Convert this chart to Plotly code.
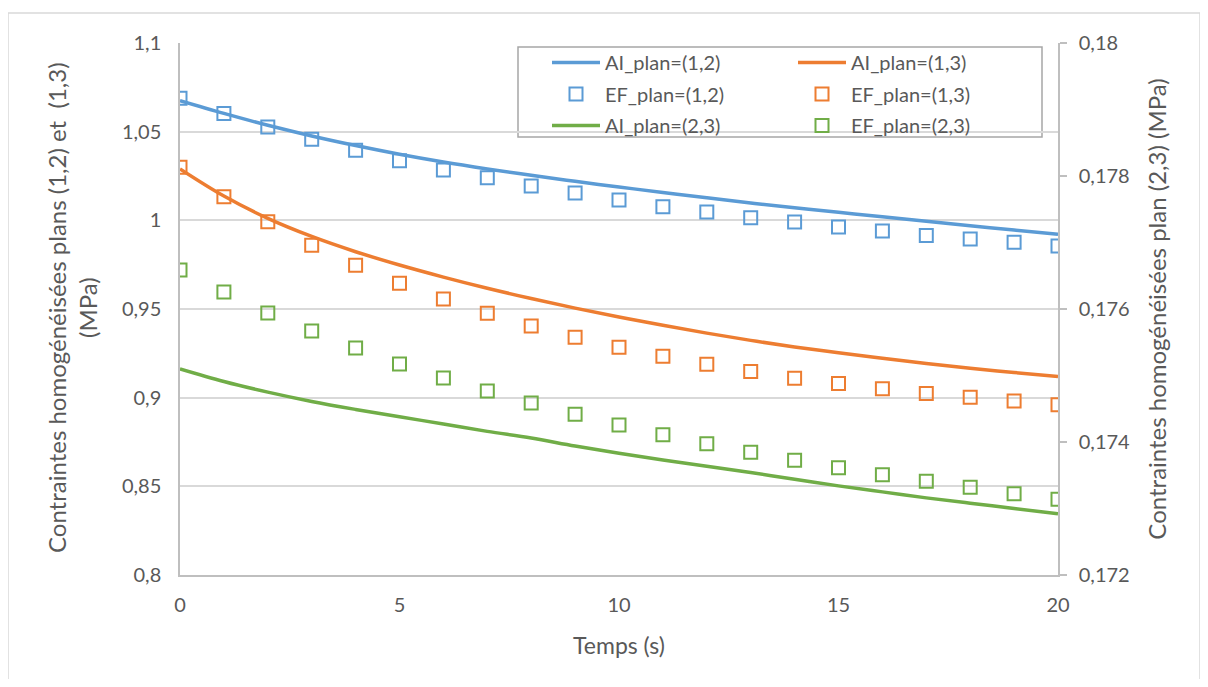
import plotly.graph_objects as go

# ---- data ----
t_ef = list(range(0, 21))
t_ai = list(range(0, 21))

ai_12 = [1.0675, 1.0603, 1.0536, 1.0476, 1.0422, 1.0373, 1.0329, 1.0290, 1.0254, 1.0220,
         1.0188, 1.0157, 1.0127, 1.0098, 1.0071, 1.0045, 1.0020, 0.9995, 0.9970, 0.9945, 0.9921]
ef_12 = [1.0688, 1.0603, 1.0526, 1.0457, 1.0395, 1.0336, 1.0284, 1.0240, 1.0194, 1.0154,
         1.0115, 1.0077, 1.0047, 1.0015, 0.9990, 0.9962, 0.9940, 0.9915, 0.9895, 0.9876, 0.9855]
ai_13 = [1.0290, 1.0137, 1.0011, 0.9909, 0.9823, 0.9748, 0.9680, 0.9617, 0.9559, 0.9505,
         0.9455, 0.9408, 0.9364, 0.9323, 0.9286, 0.9253, 0.9222, 0.9193, 0.9166, 0.9142, 0.9120]
ef_13 = [1.0300, 1.0133, 0.9992, 0.9860, 0.9747, 0.9645, 0.9556, 0.9476, 0.9404, 0.9340,
         0.9284, 0.9233, 0.9188, 0.9148, 0.9110, 0.9080, 0.9050, 0.9024, 0.9002, 0.8981, 0.8960]
ai_23 = [0.17510, 0.17491, 0.17475, 0.17461, 0.17449, 0.17438, 0.17427, 0.17416, 0.17406, 0.17394,
         0.17383, 0.17373, 0.173635, 0.17354, 0.17344, 0.17334, 0.17325, 0.17316, 0.17308, 0.17300, 0.17292]
ef_23 = [0.176586, 0.176256, 0.175940, 0.175670, 0.175414, 0.175173, 0.174962, 0.174767, 0.174586, 0.174416,
         0.174256, 0.174110, 0.173974, 0.173845, 0.173725, 0.173614, 0.173508, 0.173409, 0.173318, 0.173222, 0.173138]

names = ["AI_plan=(1,2)", "EF_plan=(1,2)", "AI_plan=(1,3)", "EF_plan=(1,3)", "AI_plan=(2,3)", "EF_plan=(2,3)"]
y_left_title = "Contraintes homogénéisées plans (1,2) et  (1,3)<br>(MPa)"
y_right_title = "Contraintes homogénéisées plan (2,3) (MPa)"
x_title = "Temps (s)"

BLUE = "#5b9bd5"
ORANGE = "#ed7d31"
GREEN = "#70ad47"
TXT = "#595959"
FONT = "Lato"

fig = go.Figure()

def line(x, y, name, color, yaxis, legend):
    fig.add_trace(go.Scatter(x=x, y=y, name=name, mode="lines", yaxis=yaxis,
                             line=dict(color=color, width=3.5, shape="spline"),
                             legend=legend, legendgroup=name))

def marks(x, y, name, color, yaxis, legend):
    fig.add_trace(go.Scatter(x=x, y=y, name=name, mode="markers", yaxis=yaxis,
                             marker=dict(symbol="square-open", size=13, color=color,
                                         line=dict(color=color, width=2)),
                             legend=legend, legendgroup=name))

line(t_ai, ai_12, names[0], BLUE, "y", "legend")
marks(t_ef, ef_12, names[1], BLUE, "y", "legend")
line(t_ai, ai_23, names[4], GREEN, "y2", "legend")
line(t_ai, ai_13, names[2], ORANGE, "y", "legend2")
marks(t_ef, ef_13, names[3], ORANGE, "y", "legend2")
marks(t_ef, ef_23, names[5], GREEN, "y2", "legend2")

# page body has an 8px margin: plot area lands at x 180..1058, y 43..575 on screen
W, H = 1192, 671
L, R, T, B = 172, 142, 35, 104
pw, ph = W - L - R, H - T - B
OX, OY = 180, 43  # screen position of plot area

def px(xp):
    return (xp - OX) / pw

def py(yp):
    return 1 - (yp - OY) / ph

ITEMW = 48
legend_common = dict(bgcolor="rgba(0,0,0,0)", borderwidth=0, orientation="v",
                     font=dict(family=FONT, size=20, color=TXT), itemwidth=ITEMW,
                     yanchor="top", xanchor="left", tracegroupgap=2.5, traceorder="grouped")

fig.update_layout(
    width=W, height=H,
    margin=dict(l=L, r=R, t=T, b=B, pad=0),
    paper_bgcolor="white", plot_bgcolor="white",
    separators=", ",
    font=dict(family=FONT, size=20, color=TXT),
    showlegend=True,
    legend=dict(x=px(605 - ITEMW - 10), y=py(43), **legend_common),
    legend2=dict(x=px(851 - ITEMW - 10), y=py(43), **legend_common),
    xaxis=dict(range=[0, 20], dtick=5, tick0=0, showgrid=False, zeroline=False,
               showline=True, linecolor="#bfbfbf", linewidth=1.5, ticks="",
               ticklabelstandoff=11,
               tickfont=dict(family=FONT, size=20, color=TXT),
               title=dict(text=x_title, font=dict(family=FONT, size=23, color=TXT), standoff=23)),
    yaxis=dict(range=[0.8, 1.1], dtick=0.05, tick0=0.8, showgrid=True, gridcolor="#d9d9d9",
               gridwidth=1.5, zeroline=False, showline=True, linecolor="#bfbfbf", linewidth=1.5,
               ticks="outside", ticklen=13, tickcolor="rgba(0,0,0,0)",
               tickfont=dict(family=FONT, size=20, color=TXT)),
    yaxis2=dict(range=[0.172, 0.18], dtick=0.002, tick0=0.172, overlaying="y", side="right",
                showgrid=False, zeroline=False, showline=True, linecolor="#bfbfbf", linewidth=1.5,
                ticks="outside", ticklen=7, tickwidth=1.5, tickcolor="#bfbfbf",
                ticklabelstandoff=8,
                tickfont=dict(family=FONT, size=20, color=TXT),
                title=dict(text=y_right_title, font=dict(family=FONT, size=24, color=TXT), standoff=20)),
    annotations=[
        dict(text=y_left_title, xref="paper", yref="paper", x=px(72), y=py(308),
             xanchor="center", yanchor="middle", textangle=-90, showarrow=False,
             font=dict(family=FONT, size=24, color=TXT)),
    ],
    shapes=[
        dict(type="rect", xref="paper", yref="paper", x0=px(518), x1=px(1042), y0=py(137), y1=py(47),
             line=dict(color="#a6a6a6", width=1.5), fillcolor="white", layer="between"),
        dict(type="rect", xref="paper", yref="paper", x0=px(8), x1=px(1200), y0=py(681), y1=py(13),
             line=dict(color="#d9d9d9", width=1.5), fillcolor="rgba(0,0,0,0)", layer="below"),
    ],
)

fig.write_html("out.html")
